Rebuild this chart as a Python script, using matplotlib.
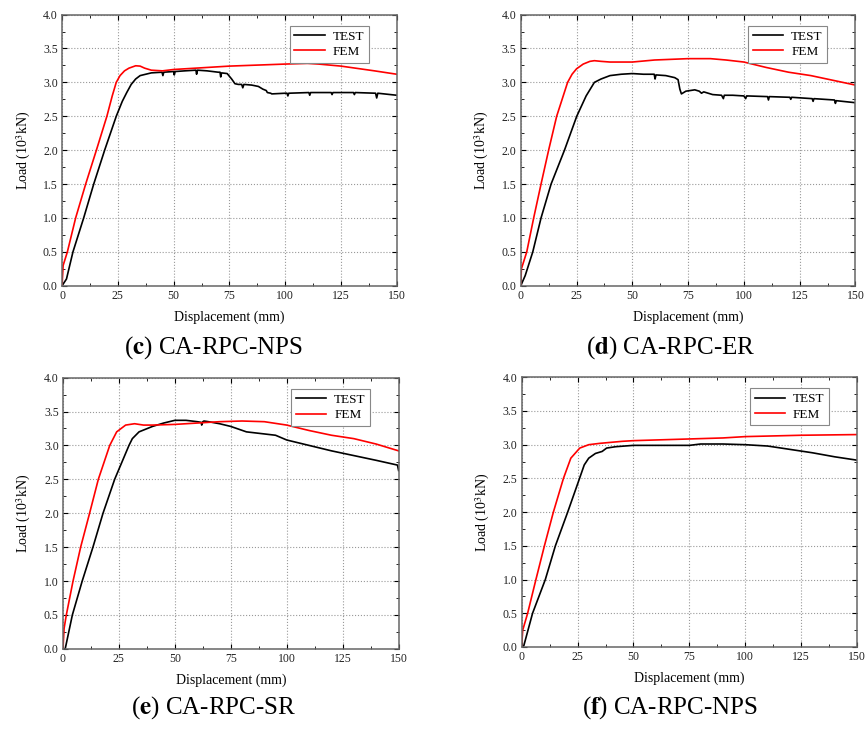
import matplotlib
matplotlib.use("Agg")
import matplotlib.pyplot as plt
from matplotlib.ticker import MultipleLocator, FormatStrFormatter

plt.rcParams["font.family"] = ["Liberation Serif", "DejaVu Serif"]
plt.rcParams["mathtext.fontset"] = "stix"

# (c) CA-RPC-NPS
c_test_x = [0, 2, 4.9, 9.7, 14.2, 19.1, 24.3, 27, 29, 31,
            33, 35, 40, 44.8, 45.2, 45.6, 50, 50.3, 50.7, 55,
            60, 60.3, 60.7, 65, 70, 70.8, 71.1, 71.5, 74, 76,
            77.5, 79, 80.5, 81, 81.5, 85, 88, 90, 91.5, 92,
            93.5, 94, 100, 100.8, 101.2, 101.6, 110.6, 111, 111.4, 120.6,
            121, 121.4, 130.6, 131, 131.4, 140.5, 141, 141.5, 150]
c_test_y = [0, 0.1, 0.5, 1.0, 1.5, 2.0, 2.5, 2.72, 2.85, 2.97,
            3.05, 3.1, 3.14, 3.15, 3.1, 3.15, 3.16, 3.11, 3.16, 3.17,
            3.18, 3.12, 3.18, 3.17, 3.15, 3.15, 3.08, 3.14, 3.13, 3.05,
            2.98, 2.97, 2.97, 2.92, 2.97, 2.96, 2.94, 2.9, 2.88, 2.85,
            2.84, 2.83, 2.84, 2.84, 2.8, 2.84, 2.85, 2.81, 2.85, 2.85,
            2.82, 2.85, 2.85, 2.82, 2.85, 2.84, 2.77, 2.84, 2.81]
c_fem_x = [0, 0.5, 2.4, 6.1, 10.6, 15.4, 20.1, 22.5, 24.3, 26,
           28, 30, 33, 35, 37, 40, 45, 50, 75, 100,
           110, 115, 125, 140, 150]
c_fem_y = [0, 0.3, 0.5, 1.0, 1.5, 2.0, 2.5, 2.8, 3.0, 3.1,
           3.17, 3.21, 3.245, 3.24, 3.21, 3.18, 3.17, 3.19, 3.24, 3.27,
           3.28, 3.27, 3.24, 3.17, 3.12]

# (d) CA-RPC-ER
d_test_x = [0, 2, 5.4, 9.1, 13.6, 19.6, 25.1, 29.3, 33, 36,
            40, 45, 50, 55, 59.8, 60.2, 60.6, 65, 69, 70.5,
            71.3, 72, 74, 78, 80, 81, 82, 86, 90, 90.8,
            91.2, 91.6, 95, 100, 100.8, 101.2, 101.6, 110.6, 111, 111.4,
            120.6, 121, 121.4, 130.6, 131, 131.4, 140.6, 141, 141.4, 150]
d_test_y = [0, 0.15, 0.5, 1.0, 1.5, 2.0, 2.5, 2.8, 3.0, 3.05,
            3.1, 3.12, 3.13, 3.12, 3.12, 3.05, 3.11, 3.1, 3.07, 3.04,
            2.9, 2.83, 2.87, 2.89, 2.87, 2.84, 2.86, 2.82, 2.81, 2.76,
            2.81, 2.81, 2.81, 2.8, 2.76, 2.8, 2.8, 2.79, 2.74, 2.79,
            2.78, 2.75, 2.78, 2.76, 2.72, 2.76, 2.74, 2.69, 2.73, 2.7]
d_fem_x = [0, 0.3, 2.7, 5.8, 9.1, 12.5, 16.1, 21, 23, 25,
           28, 31, 33, 36, 40, 50, 60, 75, 85, 92,
           100, 110, 120, 130, 140, 150]
d_fem_y = [0, 0.25, 0.5, 1.0, 1.5, 2.0, 2.5, 3.0, 3.12, 3.2,
           3.27, 3.31, 3.32, 3.31, 3.30, 3.30, 3.33, 3.35, 3.35, 3.33,
           3.3, 3.22, 3.15, 3.1, 3.03, 2.96]

# (e) CA-RPC-SR
e_test_x = [0, 1, 4.2, 8.6, 13.4, 17.9, 23.1, 29.5, 31, 34,
            40, 45, 50, 55, 60, 61.8, 62, 62.5, 63, 65,
            70, 75, 82, 95, 100, 110, 120, 130, 140, 149.5, 150]
e_test_y = [0, 0, 0.5, 1.0, 1.5, 2.0, 2.5, 3.0, 3.1, 3.2,
            3.28, 3.33, 3.37, 3.37, 3.35, 3.34, 3.3, 3.35, 3.36, 3.35,
            3.32, 3.28, 3.2, 3.15, 3.08, 3.0, 2.92, 2.85, 2.78, 2.71, 2.63]
e_fem_x = [0, 0.5, 1.5, 4.5, 7.9, 11.9, 15.8, 20.9, 24, 28,
           32, 36, 40, 50, 60, 70, 80, 90, 100, 110,
           120, 130, 140, 150]
e_fem_y = [0, 0.3, 0.5, 1.0, 1.5, 2.0, 2.5, 3.0, 3.2, 3.3,
           3.32, 3.3, 3.3, 3.31, 3.33, 3.35, 3.36, 3.35, 3.3, 3.22,
           3.15, 3.1, 3.02, 2.92]

# (f) CA-RPC-NPS
f_test_x = [0, 1, 4.9, 10.6, 15.1, 20.6, 25.9, 28, 30, 33,
            36, 38, 42, 50, 75, 80, 90, 100, 110, 120,
            130, 140, 150]
f_test_y = [0, 0.02, 0.5, 1.0, 1.5, 2.0, 2.5, 2.7, 2.8, 2.87,
            2.9, 2.95, 2.97, 2.99, 2.99, 3.01, 3.01, 3.0, 2.98, 2.93,
            2.88, 2.82, 2.77]
f_fem_x = [0, 0.5, 2.7, 6.4, 10.2, 14.2, 18.7, 22, 26, 30,
           35, 45, 50, 70, 90, 100, 125, 150]
f_fem_y = [0, 0.25, 0.5, 1.0, 1.5, 2.0, 2.5, 2.8, 2.95, 3.0,
           3.02, 3.05, 3.06, 3.08, 3.1, 3.12, 3.14, 3.15]

panels = [
    ("c", "CA-RPC-NPS", c_test_x, c_test_y, c_fem_x, c_fem_y),
    ("d", "CA-RPC-ER", d_test_x, d_test_y, d_fem_x, d_fem_y),
    ("e", "CA-RPC-SR", e_test_x, e_test_y, e_fem_x, e_fem_y),
    ("f", "CA-RPC-NPS", f_test_x, f_test_y, f_fem_x, f_fem_y),
]

# axes boxes in figure fractions
boxes = [
    [0.0717, 0.608, 0.387, 0.372],
    [0.602, 0.608, 0.387, 0.372],
    [0.0728, 0.110, 0.388, 0.372],
    [0.603, 0.1125, 0.388, 0.370],
]
captions_xy = [(0.247, 0.523), (0.775, 0.523), (0.247, 0.029), (0.775, 0.029)]

fig = plt.figure(figsize=(8.65, 7.29), dpi=100)

for (tag, name, tx, ty, fx, fy), box, (cx, cy) in zip(panels, boxes, captions_xy):
    ax = fig.add_axes(box)
    ax.plot(tx, ty, color="black", lw=1.2, label="TEST")
    ax.plot(fx, fy, color="red", lw=1.2, label="FEM")
    ax.set_xlim(0, 150)
    ax.set_ylim(0, 4.0)
    ax.xaxis.set_major_locator(MultipleLocator(25))
    ax.xaxis.set_minor_locator(MultipleLocator(12.5))
    ax.yaxis.set_major_locator(MultipleLocator(0.5))
    ax.yaxis.set_minor_locator(MultipleLocator(0.25))
    ax.yaxis.set_major_formatter(FormatStrFormatter("%.1f"))
    ax.tick_params(which="both", direction="in", top=True, right=True,
                   labelsize=8.5, pad=3, labelcolor="#222222")
    ax.tick_params(which="major", length=3.5, width=0.8)
    ax.tick_params(which="minor", length=2, width=0.6)
    ax.grid(True, which="major", color="#999999", linestyle=":", linewidth=0.8)
    for s in ax.spines.values():
        s.set_color("#666666")
        s.set_linewidth(1.1)
    ax.set_xlabel("Displacement (mm)", fontsize=10)
    ax.set_ylabel("Load (10$^3$kN)", fontsize=10)
    ax.xaxis.set_label_coords(0.5, -0.092)
    ax.yaxis.set_label_coords(-0.088, 0.5)
    leg = ax.legend(loc="upper right", bbox_to_anchor=(0.916, 0.959),
                    borderaxespad=0, fontsize=9.5, fancybox=False,
                    framealpha=1, edgecolor="#888888", handlelength=2.3,
                    borderpad=0.35, labelspacing=0.25, handletextpad=0.6)
    leg.get_frame().set_linewidth(0.8)
    fig.text(cx, cy, r"(" + r"$\mathbf{" + tag + r"}$" + r") " + name,
             ha="center", va="center", fontsize=18)

fig.savefig("out.png", dpi=100)
